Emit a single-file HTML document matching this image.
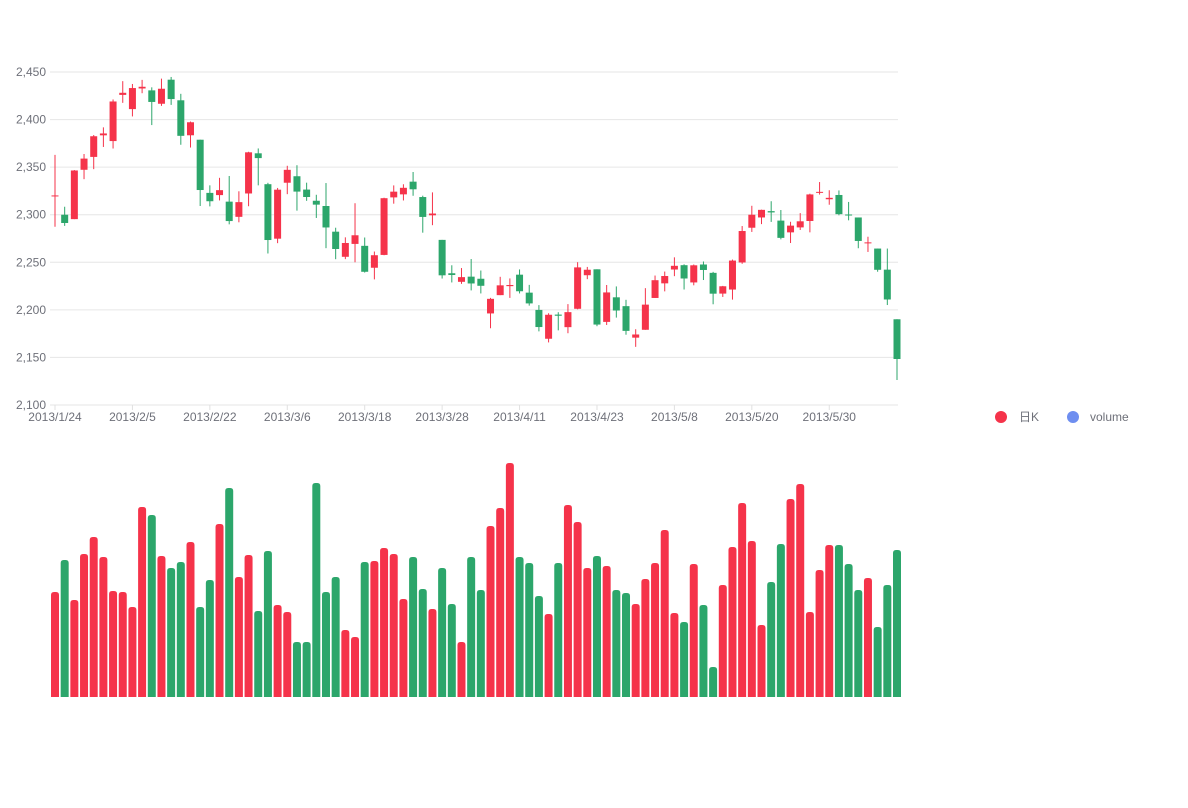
<!DOCTYPE html>
<html><head><meta charset="utf-8"><style>
body{margin:0;background:#fff;}
svg text{font-family:"Liberation Sans","Noto Sans CJK SC",sans-serif;font-size:12px;fill:#6e7079;}
</style></head><body>
<svg id="c" width="1188" height="803"></svg>
<script>
const dates=['2013/1/24','2013/1/25','2013/1/28','2013/1/29','2013/1/30','2013/1/31','2013/2/1','2013/2/4','2013/2/5','2013/2/6','2013/2/7','2013/2/8','2013/2/18','2013/2/19','2013/2/20','2013/2/21','2013/2/22','2013/2/25','2013/2/26','2013/2/27','2013/2/28','2013/3/1','2013/3/4','2013/3/5','2013/3/6','2013/3/7','2013/3/8','2013/3/11','2013/3/12','2013/3/13','2013/3/14','2013/3/15','2013/3/18','2013/3/19','2013/3/20','2013/3/21','2013/3/22','2013/3/25','2013/3/26','2013/3/27','2013/3/28','2013/3/29','2013/4/1','2013/4/2','2013/4/3','2013/4/8','2013/4/9','2013/4/10','2013/4/11','2013/4/12','2013/4/15','2013/4/16','2013/4/17','2013/4/18','2013/4/19','2013/4/22','2013/4/23','2013/4/24','2013/4/25','2013/4/26','2013/5/2','2013/5/3','2013/5/6','2013/5/7','2013/5/8','2013/5/9','2013/5/10','2013/5/13','2013/5/14','2013/5/15','2013/5/16','2013/5/17','2013/5/20','2013/5/21','2013/5/22','2013/5/23','2013/5/24','2013/5/27','2013/5/28','2013/5/29','2013/5/30','2013/5/31','2013/6/3','2013/6/4','2013/6/5','2013/6/6','2013/6/7','2013/6/13'];
const openV=[2320.26,2300,2295.35,2347.22,2360.75,2383.43,2377.41,2425.92,2411,2432.68,2430.69,2416.62,2441.91,2420.26,2383.49,2378.82,2322.94,2320.62,2313.74,2297.77,2322.32,2364.54,2332.08,2274.81,2333.61,2340.44,2326.42,2314.68,2309.16,2282.17,2255.77,2269.31,2267.29,2244.26,2257.74,2318.21,2321.4,2334.74,2318.58,2299.38,2273.55,2238.49,2229.46,2234.9,2232.69,2196.24,2215.47,2224.93,2236.98,2218.09,2199.91,2169.63,2195.03,2181.82,2201.12,2236.4,2242.62,2187.35,2213.19,2203.89,2170.78,2179.05,2212.5,2227.86,2242.39,2246.96,2228.82,2247.68,2238.9,2217.09,2221.34,2249.81,2286.33,2297.11,2303.75,2293.81,2281.45,2286.66,2293.4,2323.54,2316.25,2320.74,2300.21,2297.1,2270.71,2264.43,2242.26,2190.1];
const closeV=[2320.26,2291.3,2346.5,2358.98,2382.48,2385.42,2419.02,2428.15,2433.13,2434.48,2418.53,2432.4,2421.56,2382.91,2397.18,2325.95,2314.16,2325.82,2293.34,2313.22,2365.59,2359.51,2273.4,2326.31,2347.18,2324.29,2318.61,2310.59,2286.6,2263.97,2270.28,2278.4,2240.02,2257.43,2317.37,2324.24,2328.28,2326.72,2297.67,2301.26,2236.3,2236.62,2234.4,2227.74,2225.29,2211.59,2225.77,2226.13,2219.55,2206.78,2181.94,2194.85,2193.8,2197.6,2244.64,2242.17,2184.54,2218.32,2199.31,2177.91,2174.12,2205.5,2231.17,2235.57,2246.3,2232.97,2246.83,2241.92,2217.01,2224.8,2251.81,2282.87,2299.99,2305.11,2302.4,2275.67,2288.53,2293.08,2321.32,2324.02,2317.75,2300.59,2299.25,2272.42,2270.93,2242.11,2210.9,2148.35];
const lowV=[2287.3,2288.26,2295.35,2337.35,2347.89,2371.23,2369.57,2417.58,2403.3,2427.7,2394.22,2414.4,2415.43,2373.53,2370.61,2309.17,2308.76,2315.01,2289.89,2292.03,2308.92,2330.86,2259.25,2270.1,2321.6,2304.27,2314.59,2296.58,2264.83,2253.25,2253.31,2250,2239.21,2232.02,2257.42,2311.6,2314.97,2319.91,2281.12,2289,2232.91,2228.81,2227.31,2220.44,2217.25,2180.67,2215.47,2212.56,2217.26,2204.44,2177.39,2165.78,2178.47,2175.44,2200.58,2232.26,2182.81,2184.11,2191.85,2173.86,2161.14,2179.05,2212.5,2219.44,2235.42,2221.38,2225.81,2231.36,2205.87,2213.58,2210.77,2248.41,2281.9,2290.12,2292.43,2274.1,2270.25,2283.94,2281.47,2321.17,2310.49,2299.37,2294.11,2264.76,2260.87,2240.07,2205.07,2126.22];
const highV=[2362.94,2308.38,2346.92,2363.8,2383.76,2391.82,2421.15,2440.38,2437.42,2441.73,2433.89,2443.03,2444.8,2427.07,2397.94,2378.82,2330.88,2338.78,2340.71,2324.63,2366.16,2369.65,2333.54,2328.14,2351.44,2352.02,2333.67,2320.96,2333.29,2286.33,2276.22,2312.08,2276.05,2261.31,2317.86,2330.81,2332,2344.89,2319.99,2323.48,2273.55,2246.87,2243.95,2253.42,2241.34,2212.59,2234.73,2233.04,2242.48,2226.26,2204.99,2196.43,2197.51,2206.03,2250.11,2245.12,2242.62,2226.12,2224.63,2210.58,2179.65,2222.81,2236.07,2240.26,2255.21,2247.86,2247.67,2250.85,2239.93,2225.19,2252.87,2288.09,2309.39,2305.3,2314.18,2304.95,2292.59,2301.7,2322.1,2334.33,2325.72,2325.53,2313.43,2297.1,2276.86,2264.43,2264.43,2190.1];
const volume=[105,137,97,143,160,140,106,105,90,190,182,141,129,135,155,90,117,173,209,120,142,86,146,92,85,55,55,214,105,120,67,60,135,136,149,143,98,140,108,88,129,93,55,140,107,171,189,234,140,134,101,83,134,192,175,129,141,131,107,104,93,118,134,167,84,75,133,92,30,112,150,194,156,72,115,153,198,213,85,127,152,152,133,107,119,70,112,147];
const yTicks=[2100,2150,2200,2250,2300,2350,2400,2450];
const xLabelIdx=[0,8,16,24,32,40,48,56,64,72,80];

const svg=document.getElementById('c');const NS='http://www.w3.org/2000/svg';
function mk(t,a,p){const e=document.createElementNS(NS,t);for(const k in a)e.setAttribute(k,a[k]);(p||svg).appendChild(e);return e;}
const n=dates.length;
const x=i=>55+i*(842/(n-1));
const y=v=>405-(v-2100)*(333/350);
const yv=v=>697-v*(234/234);
const RED='#f5334a',GREEN='#2ca66b';
// grid
yTicks.forEach(t=>{
  const g=mk('line',{x1:50,x2:898,y1:y(t),y2:y(t),stroke:'#e6e6e6','stroke-width':1});
  
  const tx=mk('text',{x:46,y:y(t)+4,'text-anchor':'end'});tx.textContent=t.toLocaleString('en-US');
  
});
xLabelIdx.forEach(i=>{
  const tk=mk('line',{x1:x(i),x2:x(i),y1:405,y2:410,stroke:'#e0e0e0'});
  
  const tx=mk('text',{x:x(i),y:421,'text-anchor':'middle'});tx.textContent=dates[i];
  
});
for(let i=0;i<n;i++){
  const up=closeV[i]>=openV[i];const c=up?RED:GREEN;
  const w=mk('line',{x1:x(i),x2:x(i),y1:y(highV[i]),y2:y(lowV[i]),stroke:c,'stroke-width':1});
  
  const top=y(Math.max(openV[i],closeV[i])),bot=y(Math.min(openV[i],closeV[i]));
  const b=mk('rect',{x:x(i)-3.5,y:top,width:7,height:Math.max(1,bot-top),fill:c});
  
  const vt=yv(volume[i]);
  const vb=mk('path',{d:`M${x(i)-4},697 V${vt+3} Q${x(i)-4},${vt} ${x(i)-1},${vt} H${x(i)+1} Q${x(i)+4},${vt} ${x(i)+4},${vt+3} V697 Z`,fill:c});
  
}
const l1=mk('circle',{cx:1001,cy:417,r:6,fill:RED});
const t1=mk('text',{x:1019,y:421});t1.textContent='日K';
const l2=mk('circle',{cx:1073,cy:417,r:6,fill:'#6e8ef0'});
const t2=mk('text',{x:1090,y:421});t2.textContent='volume';
</script>
</body></html>
